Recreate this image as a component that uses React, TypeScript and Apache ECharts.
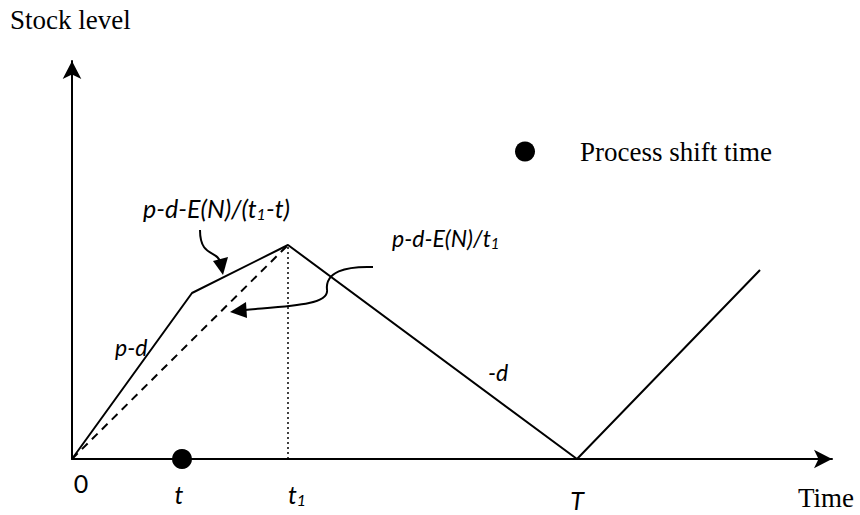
import React, { useEffect, useRef } from "react";
import * as echarts from "echarts";

// Stock level profile (time, level) in chart units
const profileTimes = [0, 120, 216, 505, 688];
const profileLevels = [0, 166, 214, 0, 189];
// dashed average slope from origin to peak
const dashedTimes = [0, 216];
const dashedLevels = [0, 214];
// dotted drop line at t1
const dottedTimes = [216, 216];
const dottedLevels = [0, 214];
// process shift time point
const shiftTimes = [110];
const shiftLevels = [0];
const legendName = "Process shift time";

const SERIF = "'Liberation Serif', 'Times New Roman', serif";
const SANS = "Lato, 'Noto Sans', sans-serif";

export default function App() {
  const ref = useRef<HTMLDivElement>(null);
  useEffect(() => {
    if (!ref.current) return;
    const chart = echarts.init(ref.current, null, { renderer: "svg" });
    const zip = (xs: number[], ys: number[]) => xs.map((x, i) => [x, ys[i]]);
    const italic = {
      fontFamily: SANS,
      fontStyle: "italic",
      fontSize: 23,
      fill: "#000",
    };
    const big = { ...italic, fontSize: 25 };
    const rich = {
      sub: { fontFamily: SANS, fontStyle: "italic", fontSize: 15, padding: [10, 0, 0, 0] },
      base: { fontFamily: SANS, fontStyle: "italic", fontSize: 23 },
    };
    const richBig = {
      sub: { fontFamily: SANS, fontStyle: "italic", fontSize: 16, padding: [11, 0, 0, 0] },
      base: { fontFamily: SANS, fontStyle: "italic", fontSize: 25 },
    };
    const option: any = {
      animation: false,
      backgroundColor: "#fff",
      grid: { left: 72, right: 28, top: 61, bottom: 56 },
      xAxis: {
        type: "value",
        min: 0,
        max: 760,
        axisLine: {
          show: true,
          symbol: ["none", "arrow"],
          symbolSize: [14, 18],
          lineStyle: { color: "#000", width: 2 },
        },
        axisTick: { show: false },
        axisLabel: { show: false },
        splitLine: { show: false },
      },
      yAxis: {
        type: "value",
        min: 0,
        max: 398,
        axisLine: {
          show: true,
          symbol: ["none", "arrow"],
          symbolSize: [14, 18],
          lineStyle: { color: "#000", width: 2 },
        },
        axisTick: { show: false },
        axisLabel: { show: false },
        splitLine: { show: false },
      },
      legend: {
        data: [{ name: legendName, icon: "circle" }],
        left: 510,
        top: 133,
        itemWidth: 20,
        itemHeight: 20,
        textStyle: {
          fontFamily: SERIF,
          fontSize: 27,
          color: "#000",
          padding: [0, 0, 0, 40],
        },
      },
      series: [
        {
          type: "line",
          data: zip(profileTimes, profileLevels),
          symbol: "none",
          lineStyle: { color: "#000", width: 2 },
          z: 3,
        },
        {
          type: "line",
          data: zip(dashedTimes, dashedLevels),
          symbol: "none",
          lineStyle: { color: "#000", width: 2, type: [8, 6] },
        },
        {
          type: "line",
          data: zip(dottedTimes, dottedLevels),
          symbol: "none",
          lineStyle: { color: "#000", width: 1.5, type: [2, 3] },
        },
        {
          type: "scatter",
          name: legendName,
          data: zip(shiftTimes, shiftLevels),
          symbol: "circle",
          symbolSize: 20,
          itemStyle: { color: "#000", opacity: 1 },
          z: 5,
        },
      ],
      graphic: [
        { type: "text", left: 10, top: 6, style: { text: "Stock level", font: `27px ${SERIF}`, fill: "#000" } },
        { type: "text", left: 798, top: 484, style: { text: "Time", font: `27px ${SERIF}`, fill: "#000" } },
        { type: "text", x: 81, y: 483, style: { ...big, fontStyle: "normal", text: "0", align: "center", verticalAlign: "middle" } },
        { type: "text", x: 179, y: 494, style: { ...big, text: "t", align: "center", verticalAlign: "middle" } },
        { type: "text", x: 288, y: 494, style: { text: "{base|t}{sub|1}", rich: richBig, fill: "#000", align: "left", verticalAlign: "middle" } },
        { type: "text", x: 577, y: 500, style: { ...big, text: "T", align: "center", verticalAlign: "middle" } },
        { type: "text", x: 115, y: 347, style: { ...italic, text: "p-d", verticalAlign: "middle" } },
        { type: "text", x: 488, y: 372, style: { ...italic, text: "-d", verticalAlign: "middle" } },
        { type: "text", x: 143, y: 208, style: { text: "{base|p-d-E(N)/(t}{sub|1}{base|-t)}", rich: richBig, fill: "#000", verticalAlign: "middle" } },
        { type: "text", x: 392, y: 238, style: { text: "{base|p-d-E(N)/t}{sub|1}", rich, fill: "#000", verticalAlign: "middle" } },
        // curved arrow 1
        {
          type: "bezierCurve",
          shape: { x1: 200, y1: 230, x2: 220, y2: 262, cpx1: 200, cpy1: 258, cpx2: 218, cpy2: 250 },
          style: { stroke: "#000", lineWidth: 2, fill: "none" },
        },
        { type: "polygon", shape: { points: [[213, 261], [228, 257], [223, 275]] }, style: { fill: "#000" } },
        // curved arrow 2
        {
          type: "bezierCurve",
          shape: { x1: 373, y1: 267, x2: 327, y2: 290, cpx1: 345, cpy1: 266, cpx2: 325, cpy2: 272 },
          style: { stroke: "#000", lineWidth: 2, fill: "none" },
        },
        {
          type: "bezierCurve",
          shape: { x1: 327, y1: 290, x2: 245, y2: 310, cpx1: 329, cpy1: 305, cpx2: 290, cpy2: 306 },
          style: { stroke: "#000", lineWidth: 2, fill: "none" },
        },
        { type: "polygon", shape: { points: [[246, 302], [247, 318], [230, 312]] }, style: { fill: "#000" } },
      ],
    };
    chart.setOption(option);
    return () => chart.dispose();
  }, []);
  return <div ref={ref} style={{ width: 860, height: 515, position: "absolute", left: 0, top: 0 }} />;
}
